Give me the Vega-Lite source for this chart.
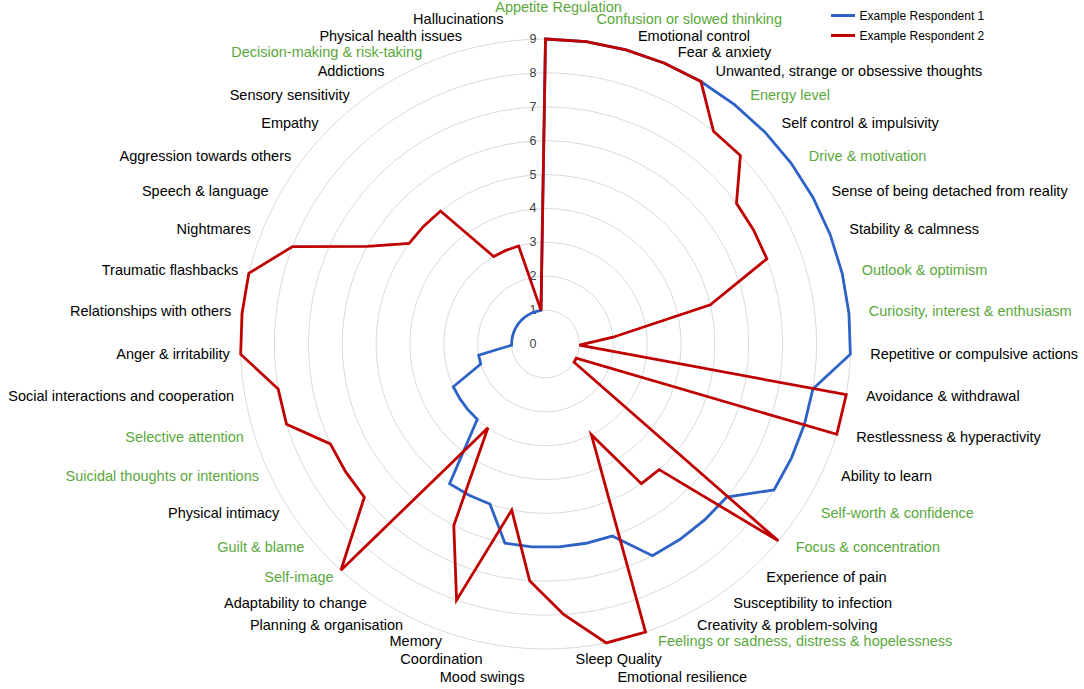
{
  "$schema": "https://vega.github.io/schema/vega-lite/v6.json",
  "width": 610,
  "height": 610,
  "autosize": {"type": "none"},
  "padding": {"left": 240.5, "top": 39, "right": 233.5, "bottom": 40},
  "background": "white",
  "config": {"view": {"stroke": null}, "font": "Liberation Sans"},
  "datasets": {
    "items": [
      {"k": 0, "category": "Appetite Regulation", "highlight": true, "Example Respondent 1": 9, "Example Respondent 2": 9},
      {"k": 1, "category": "Confusion or slowed thinking", "highlight": true, "Example Respondent 1": 9, "Example Respondent 2": 9},
      {"k": 2, "category": "Emotional control", "highlight": false, "Example Respondent 1": 9, "Example Respondent 2": 9},
      {"k": 3, "category": "Fear & anxiety", "highlight": false, "Example Respondent 1": 9, "Example Respondent 2": 9},
      {"k": 4, "category": "Unwanted, strange or obsessive thoughts", "highlight": false, "Example Respondent 1": 9, "Example Respondent 2": 9},
      {"k": 5, "category": "Energy level", "highlight": true, "Example Respondent 1": 9, "Example Respondent 2": 8},
      {"k": 6, "category": "Self control & impulsivity", "highlight": false, "Example Respondent 1": 9, "Example Respondent 2": 8},
      {"k": 7, "category": "Drive & motivation", "highlight": true, "Example Respondent 1": 9, "Example Respondent 2": 7},
      {"k": 8, "category": "Sense of being detached from reality", "highlight": false, "Example Respondent 1": 9, "Example Respondent 2": 7},
      {"k": 9, "category": "Stability & calmness", "highlight": false, "Example Respondent 1": 9, "Example Respondent 2": 7},
      {"k": 10, "category": "Outlook & optimism", "highlight": true, "Example Respondent 1": 9, "Example Respondent 2": 5},
      {"k": 11, "category": "Curiosity, interest & enthusiasm", "highlight": true, "Example Respondent 1": 9, "Example Respondent 2": 2},
      {"k": 12, "category": "Repetitive or compulsive actions", "highlight": false, "Example Respondent 1": 9, "Example Respondent 2": 1},
      {"k": 13, "category": "Avoidance & withdrawal", "highlight": false, "Example Respondent 1": 8, "Example Respondent 2": 9},
      {"k": 14, "category": "Restlessness & hyperactivity", "highlight": false, "Example Respondent 1": 8, "Example Respondent 2": 9},
      {"k": 15, "category": "Ability to learn", "highlight": false, "Example Respondent 1": 8, "Example Respondent 2": 1},
      {"k": 16, "category": "Self-worth & confidence", "highlight": true, "Example Respondent 1": 8, "Example Respondent 2": 1},
      {"k": 17, "category": "Focus & concentration", "highlight": true, "Example Respondent 1": 7, "Example Respondent 2": 9},
      {"k": 18, "category": "Experience of pain", "highlight": false, "Example Respondent 1": 7, "Example Respondent 2": 5},
      {"k": 19, "category": "Susceptibility to infection", "highlight": false, "Example Respondent 1": 7, "Example Respondent 2": 5},
      {"k": 20, "category": "Creativity & problem-solving", "highlight": false, "Example Respondent 1": 7, "Example Respondent 2": 3},
      {"k": 21, "category": "Feelings or sadness, distress & hopelessness", "highlight": true, "Example Respondent 1": 6, "Example Respondent 2": 9},
      {"k": 22, "category": "Emotional resilience", "highlight": false, "Example Respondent 1": 6, "Example Respondent 2": 9},
      {"k": 23, "category": "Sleep Quality", "highlight": false, "Example Respondent 1": 6, "Example Respondent 2": 8},
      {"k": 24, "category": "Mood swings", "highlight": false, "Example Respondent 1": 6, "Example Respondent 2": 7},
      {"k": 25, "category": "Coordination", "highlight": false, "Example Respondent 1": 6, "Example Respondent 2": 5},
      {"k": 26, "category": "Memory", "highlight": false, "Example Respondent 1": 5, "Example Respondent 2": 8},
      {"k": 27, "category": "Planning & organisation", "highlight": false, "Example Respondent 1": 5, "Example Respondent 2": 6},
      {"k": 28, "category": "Adaptability to change", "highlight": false, "Example Respondent 1": 5, "Example Respondent 2": 3},
      {"k": 29, "category": "Self-image", "highlight": true, "Example Respondent 1": 3, "Example Respondent 2": 9},
      {"k": 30, "category": "Guilt & blame", "highlight": true, "Example Respondent 1": 3, "Example Respondent 2": 7},
      {"k": 31, "category": "Physical intimacy", "highlight": false, "Example Respondent 1": 3, "Example Respondent 2": 7},
      {"k": 32, "category": "Suicidal thoughts or intentions", "highlight": true, "Example Respondent 1": 3, "Example Respondent 2": 7},
      {"k": 33, "category": "Selective attention", "highlight": true, "Example Respondent 1": 2, "Example Respondent 2": 8},
      {"k": 34, "category": "Social interactions and cooperation", "highlight": false, "Example Respondent 1": 2, "Example Respondent 2": 8},
      {"k": 35, "category": "Anger & irritability", "highlight": false, "Example Respondent 1": 1, "Example Respondent 2": 9},
      {"k": 36, "category": "Relationships with others", "highlight": false, "Example Respondent 1": 1, "Example Respondent 2": 9},
      {"k": 37, "category": "Traumatic flashbacks", "highlight": false, "Example Respondent 1": 1, "Example Respondent 2": 9},
      {"k": 38, "category": "Nightmares", "highlight": false, "Example Respondent 1": 1, "Example Respondent 2": 8},
      {"k": 39, "category": "Speech & language", "highlight": false, "Example Respondent 1": 1, "Example Respondent 2": 6},
      {"k": 40, "category": "Aggression towards others", "highlight": false, "Example Respondent 1": 1, "Example Respondent 2": 5},
      {"k": 41, "category": "Empathy", "highlight": false, "Example Respondent 1": 1, "Example Respondent 2": 5},
      {"k": 42, "category": "Sensory sensitivity", "highlight": false, "Example Respondent 1": 1, "Example Respondent 2": 5},
      {"k": 43, "category": "Addictions", "highlight": false, "Example Respondent 1": 1, "Example Respondent 2": 3},
      {"k": 44, "category": "Decision-making & risk-taking", "highlight": true, "Example Respondent 1": 1, "Example Respondent 2": 3},
      {"k": 45, "category": "Physical health issues", "highlight": false, "Example Respondent 1": 1, "Example Respondent 2": 3},
      {"k": 46, "category": "Hallucinations", "highlight": false, "Example Respondent 1": 1, "Example Respondent 2": 1}
    ],
    "ticks": [
      {"tick": 0}, {"tick": 1}, {"tick": 2}, {"tick": 3}, {"tick": 4},
      {"tick": 5}, {"tick": 6}, {"tick": 7}, {"tick": 8}, {"tick": 9}
    ]
  },
  "layer": [
    {
      "data": {"name": "ticks"},
      "transform": [{"filter": "datum.tick > 0"}],
      "mark": {"type": "point", "shape": "circle", "filled": false, "color": "#d9d9d9", "strokeWidth": 1, "opacity": 1},
      "encoding": {
        "x": {"datum": 0, "type": "quantitative", "scale": {"domain": [-9, 9], "nice": false, "zero": false}, "axis": null},
        "y": {"datum": 0, "type": "quantitative", "scale": {"domain": [-9, 9], "nice": false, "zero": false}, "axis": null},
        "size": {"field": "tick", "type": "quantitative", "scale": {"type": "pow", "exponent": 2, "domain": [0, 9], "range": [0, 372100]}, "legend": null}
      }
    },
    {
      "data": {"name": "ticks"},
      "mark": {"type": "text", "align": "right", "baseline": "middle", "dx": -9, "fontSize": 12.5, "color": "#404040"},
      "encoding": {
        "x": {"datum": 0, "type": "quantitative"},
        "y": {"field": "tick", "type": "quantitative"},
        "text": {"field": "tick", "type": "quantitative"}
      }
    },
    {
      "data": {"name": "items"},
      "transform": [
        {"fold": ["Example Respondent 1", "Example Respondent 2"], "as": ["respondent", "value"]},
        {"calculate": "2*PI*datum.k/47", "as": "theta"},
        {"calculate": "datum.value*sin(datum.theta)", "as": "px"},
        {"calculate": "datum.value*cos(datum.theta)", "as": "py"}
      ],
      "mark": {"type": "line", "interpolate": "linear-closed", "strokeWidth": 2.8},
      "encoding": {
        "x": {"field": "px", "type": "quantitative"},
        "y": {"field": "py", "type": "quantitative"},
        "order": {"field": "k", "type": "quantitative"},
        "color": {
          "field": "respondent",
          "type": "nominal",
          "scale": {"domain": ["Example Respondent 1", "Example Respondent 2"], "range": ["#2f62c6", "#c00000"]},
          "legend": {
            "title": null,
            "orient": "none",
            "legendX": 589,
            "legendY": -37,
            "symbolType": "stroke",
            "symbolSize": 576,
            "symbolStrokeWidth": 3,
            "labelFontSize": 12,
            "labelFont": "Liberation Sans",
            "labelColor": "#000000",
            "labelOffset": 3,
            "rowPadding": 0
          }
        }
      }
    },
    {
      "data": {"name": "items"},
      "transform": [
        {"calculate": "2*PI*datum.k/47", "as": "theta"},
        {"filter": "sin(datum.theta) > 0.01"},
        {"calculate": "9.32*sin(datum.theta)", "as": "lx"},
        {"calculate": "9.32*cos(datum.theta) + 29.4*max(0, cos(datum.theta)-0.98) + 4.5*max(0, min(cos(datum.theta)-0.94, 0.98-cos(datum.theta)))", "as": "ly0"},
        {"calculate": "cos(datum.theta) < -0.97 ? (datum.k % 2 == 0 ? -9.87 : min(datum.ly0, -9.32)) : datum.ly0", "as": "ly"}
      ],
      "mark": {"type": "text", "align": "left", "baseline": "middle", "dx": 9, "fontSize": 14.5},
      "encoding": {
        "x": {"field": "lx", "type": "quantitative"},
        "y": {"field": "ly", "type": "quantitative"},
        "text": {"field": "category"},
        "color": {"condition": {"test": "datum.highlight", "value": "#5aa83c"}, "value": "#000000"}
      }
    },
    {
      "data": {"name": "items"},
      "transform": [
        {"calculate": "2*PI*datum.k/47", "as": "theta"},
        {"filter": "sin(datum.theta) < -0.01"},
        {"calculate": "9.32*sin(datum.theta)", "as": "lx"},
        {"calculate": "9.32*cos(datum.theta) + 29.4*max(0, cos(datum.theta)-0.98) + 4.5*max(0, min(cos(datum.theta)-0.94, 0.98-cos(datum.theta)))", "as": "ly0"},
        {"calculate": "cos(datum.theta) < -0.97 ? (datum.k % 2 == 0 ? -9.87 : min(datum.ly0, -9.32)) : datum.ly0", "as": "ly"}
      ],
      "mark": {"type": "text", "align": "right", "baseline": "middle", "dx": 0, "fontSize": 14.5},
      "encoding": {
        "x": {"field": "lx", "type": "quantitative"},
        "y": {"field": "ly", "type": "quantitative"},
        "text": {"field": "category"},
        "color": {"condition": {"test": "datum.highlight", "value": "#5aa83c"}, "value": "#000000"}
      }
    },
    {
      "data": {"name": "items"},
      "transform": [
        {"calculate": "2*PI*datum.k/47", "as": "theta"},
        {"filter": "abs(sin(datum.theta)) <= 0.01"},
        {"calculate": "9.32*sin(datum.theta)", "as": "lx"},
        {"calculate": "9.32*cos(datum.theta) + 29.4*max(0, cos(datum.theta)-0.98)", "as": "ly"}
      ],
      "mark": {"type": "text", "align": "center", "baseline": "middle", "dx": 13, "fontSize": 14.5},
      "encoding": {
        "x": {"field": "lx", "type": "quantitative"},
        "y": {"field": "ly", "type": "quantitative"},
        "text": {"field": "category"},
        "color": {"condition": {"test": "datum.highlight", "value": "#5aa83c"}, "value": "#000000"}
      }
    }
  ]
}
